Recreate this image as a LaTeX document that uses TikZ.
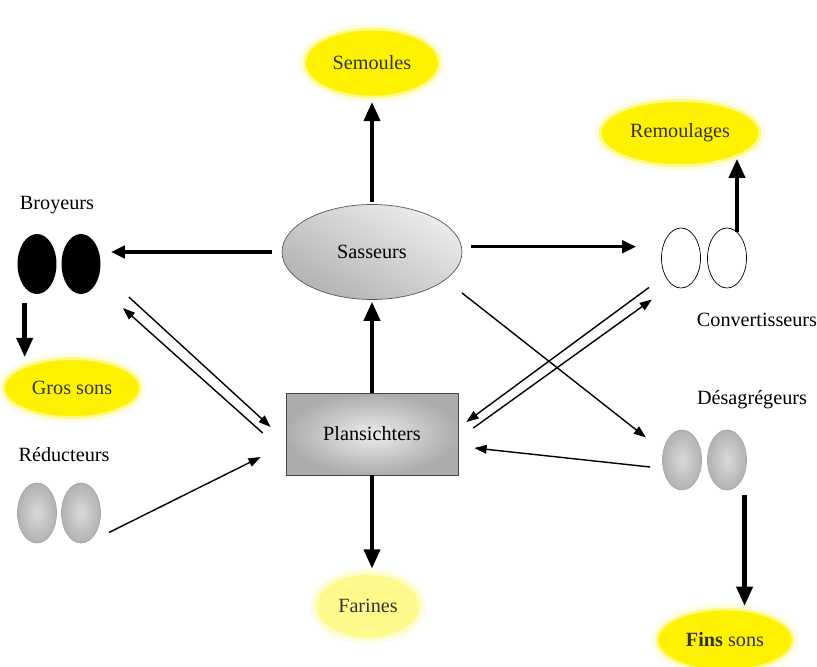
\documentclass[tikz,border=0pt]{standalone}
\usepackage{fontspec}
\setmainfont{Liberation Serif}
\usetikzlibrary{shapes.geometric, arrows.meta, positioning}

\begin{document}
\begin{tikzpicture}[x=0.02cm, y=-0.02cm,
    every node/.style={font=\fontsize{11.5}{13}\selectfont},
    product/.style={ellipse, fill=yellow, draw=yellow!45, line width=1.5pt,
        preaction={draw=yellow!12, line width=6pt}, text=black!80, inner sep=0pt},
    machine/.style={ellipse, minimum width=0.78cm, minimum height=1.2cm, inner sep=0pt},
    greymachine/.style={machine, draw=gray!70, inner color=gray!30, outer color=gray!60},
    thickarrow/.style={-{Triangle[length=11pt, width=9pt]}, line width=2.6pt},
    midarrow/.style={-{Triangle[length=8pt, width=7pt]}, line width=2pt},
    thinarrow/.style={-{Triangle[length=7pt, width=5pt]}, line width=0.8pt}]
    \clip (0,0) rectangle (817,666);

    % Central machines
    \node[ellipse, minimum width=3.6cm, minimum height=1.9cm, draw=gray!70!black,
        top color=gray!15, bottom color=gray!60, shading angle=-30] (sasseurs) at (372,252) {Sasseurs};
    \node[rectangle, minimum width=3.44cm, minimum height=1.64cm, draw=gray!55!black,
        inner color=gray!15, outer color=gray!65] (plansichters) at (372,434) {Plansichters};

    % Products
    \node[product, minimum width=2.7cm, minimum height=1.36cm] (semoules) at (372,63) {Semoules};
    \node[product, minimum width=2.74cm, minimum height=1.18cm] (grossons) at (72,388) {Gros sons};
    \node[product, fill=yellow!45, draw=yellow!25, minimum width=2.1cm, minimum height=1.3cm] (farines) at (368,606) {Farines};
    \node[product, minimum width=3.2cm, minimum height=1.3cm] (remoulages) at (680,133) {Remoulages};
    \node[product, minimum width=2.72cm, minimum height=1.24cm] (finssons) at (725,640) {\textbf{Fins} sons};

    % Roll pairs
    \node[machine, fill=black] (broy1) at (37,264) {};
    \node[machine, fill=black] (broy2) at (81,264) {};
    \node[greymachine] (red1) at (37,513) {};
    \node[greymachine] (red2) at (81,513) {};
    \node[machine, draw=black, fill=white] (conv1) at (681,258) {};
    \node[machine, draw=black, fill=white] (conv2) at (727,258) {};
    \node[greymachine] (des1) at (682,460) {};
    \node[greymachine] (des2) at (727,460) {};

    % Labels
    \node (broylabel) at (57,205) {Broyeurs};
    \node (redlabel) at (64,455) {Réducteurs};
    \node (convlabel) at (757,320) {Convertisseurs};
    \node (deslabel) at (752,400) {Désagrégeurs};

    % Vertical flows
    \draw[thickarrow, shorten <=1pt, shorten >=2pt] (sasseurs.north) -- (sasseurs.north |- semoules.south);
    \draw[thickarrow, shorten >=1pt] (plansichters.north) -- (plansichters.north |- sasseurs.south);
    \draw[thickarrow, shorten >=2pt] (plansichters.south) -- (plansichters.south |- farines.north);
    \draw[thickarrow, shorten <=0.18cm] ([xshift=-7]broy1.south) -- ([xshift=-7]broy1.south |- grossons.north);
    \draw[thickarrow] ([shift={(10,4)}]conv2.north) -- ++(0,-73);
    \draw[thickarrow, shorten <=0.1cm, shorten >=1pt] ([xshift=10]des2.south) -- ([xshift=10]des2.south |- finssons.north);

    % Horizontal flows
    \draw[midarrow, shorten <=0.2cm, shorten >=0.2cm] (sasseurs.west) -- (sasseurs.west -| broy2.east);
    \draw[midarrow, shorten <=0.18cm, shorten >=0.5cm] ([yshift=3]sasseurs.east) -- ([yshift=3]sasseurs.east -| conv1.west);

    % Diagonal flows
    \draw[thinarrow] ([shift={(28,33)}]broy2.east) -- ([shift={(-15,-7)}]plansichters.west);
    \draw[thinarrow] ([shift={(-23,-1)}]plansichters.west) -- ([shift={(22,44)}]broy2.east);
    \draw[thinarrow] ([shift={(14,-2)}]red2.south east) -- ([shift={(-25,23)}]plansichters.west);
    \draw[thinarrow] ([shift={(-18,8)}]conv1.south west) -- ([shift={(8,-12)}]plansichters.east);
    \draw[thinarrow] ([shift={(15,-6)}]plansichters.east) -- ([shift={(-15,20)}]conv1.south west);
    \draw[thinarrow] ([shift={(26,7)}]sasseurs.south east) -- ([shift={(-22,-1)}]des1.north west);
    \draw[thinarrow] ([shift={(-12,7)}]des1.west) -- ([shift={(16,14)}]plansichters.east);
\end{tikzpicture}
\end{document}
